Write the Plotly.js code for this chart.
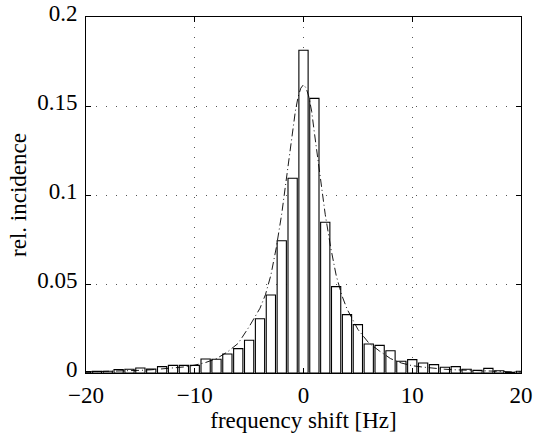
<!DOCTYPE html>
<html>
<head>
<meta charset="utf-8">
<script src="https://cdn.plot.ly/plotly-3.0.1.min.js"></script>
<style>html,body{margin:0;padding:0;background:#fff;}#chart{width:534px;height:434px;}</style>
</head>
<body>
<div id="chart"></div>
<script>
// Histogram bins (frequency shift, Hz) and relative incidence
const binCenters = [-20,-19,-18,-17,-16,-15,-14,-13,-12,-11,-10,-9,-8,-7,-6,-5,-4,-3,-2,-1,0,1,2,3,4,5,6,7,8,9,10,11,12,13,14,15,16,17,18,19,20];
const incidence = [0.0008,0.0009,0.0010,0.0019,0.0021,0.0028,0.0022,0.0036,0.0043,0.0043,0.0043,0.0079,0.0077,0.0107,0.0137,0.0184,0.0305,0.0438,0.0743,0.1094,0.1813,0.1543,0.0847,0.0485,0.0328,0.0272,0.0163,0.0155,0.0125,0.0066,0.0075,0.0056,0.0047,0.0032,0.0036,0.0021,0.0015,0.0026,0.0013,0.0004,0.0010];

// Fitted curve (dash-dot)
const fitX = [-20,-19,-18,-17,-16,-15,-14,-13,-12,-11,-10,-9,-8,-7,-6,-5,-4,-3.5,-3,-2.5,-2,-1.5,-1,-0.75,-0.5,-0.25,0,0.25,0.5,0.75,1,1.5,2,2.5,3,3.5,4,5,6,7,8,9,10,11,12,13,14,15,16,17,18,19,20];
const fitY = [0.0006,0.0007,0.0009,0.0011,0.0013,0.0015,0.0018,0.0022,0.0027,0.0034,0.0044,0.0059,0.0081,0.0118,0.0167,0.0260,0.0364,0.0440,0.0550,0.0705,0.0895,0.1120,0.1350,0.1470,0.1550,0.1600,0.1620,0.1600,0.1550,0.1470,0.1350,0.1120,0.0890,0.0705,0.0550,0.0440,0.0360,0.0245,0.0169,0.0123,0.0081,0.0056,0.0041,0.0033,0.0026,0.0021,0.0018,0.0015,0.0013,0.0011,0.0009,0.0007,0.0006];

const xTicks = [-20,-10,0,10,20];
const xTickText = ['\u221220','\u221210','0','10','20'];
const yTicks = [0,0.05,0.1,0.15,0.2];
const yTickText = ['0','0.05','0.1','0.15','0.2'];

const font = {family: '"Liberation Serif", "Times New Roman", serif', size: 23, color: '#000'};

const traces = [
  {type: 'bar', x: binCenters, y: incidence, width: 0.85,
   marker: {color: '#ffffff', line: {color: '#000000', width: 1.1}}, hoverinfo: 'none'},
  {type: 'scatter', mode: 'lines', x: fitX, y: fitY,
   line: {color: '#000000', width: 0.9, dash: '8px,3px,1px,3px'}, hoverinfo: 'none'}
];

const axisCommon = {
  showline: true, mirror: 'ticks', linecolor: '#000', linewidth: 1,
  ticks: 'inside', ticklen: 5, tickcolor: '#000', tickwidth: 1,
  showgrid: true, gridcolor: '#555', gridwidth: 1, griddash: '1px,9px',
  zeroline: false, tickfont: font
};

const layout = {
  width: 534, height: 434,
  margin: {l: 86, r: 13, t: 17, b: 61},
  paper_bgcolor: '#fff', plot_bgcolor: '#fff',
  showlegend: false, bargap: 0,
  font: font,
  xaxis: Object.assign({}, axisCommon, {
    range: [-20, 20], tickvals: xTicks, ticktext: xTickText, ticklabelstandoff: 1,
    title: {text: 'frequency shift [Hz]', font: font, standoff: 0}
  }),
  yaxis: Object.assign({}, axisCommon, {
    range: [0, 0.2], tickvals: yTicks, ticktext: yTickText, ticklabelstandoff: 3, ticklabelshift: -4,
    title: {text: 'rel. incidence', font: font, standoff: 4}
  })
};

Plotly.newPlot('chart', traces, layout, {displayModeBar: false, staticPlot: true});
</script>
</body>
</html>
